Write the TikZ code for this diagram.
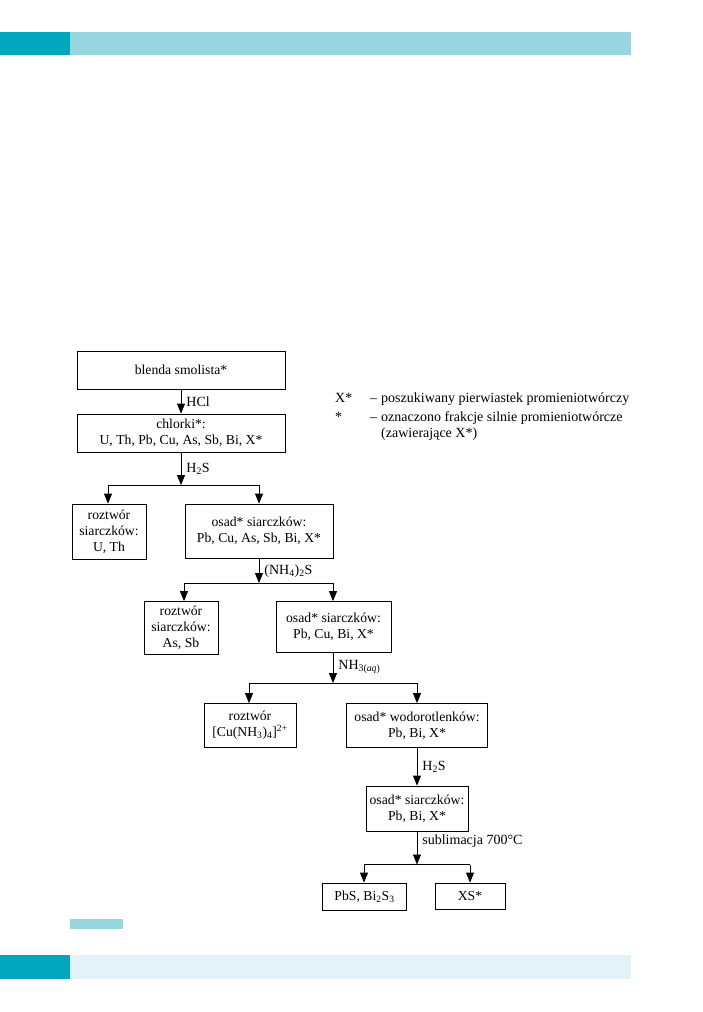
\documentclass[tikz,border=0pt]{standalone}
\usepackage{fontspec}
\setmainfont{Liberation Serif}
\usepackage{xcolor}
\usetikzlibrary{calc, positioning}
\usetikzlibrary{arrows.meta}

\definecolor{tealdark}{HTML}{00A7BC}
\definecolor{teallight}{HTML}{97D5DF}
\definecolor{palebar}{HTML}{E3F2F8}

\tikzset{
  box/.style={draw, line width=0.8pt, align=center, inner sep=0pt,
    font=\fontsize{13.7}{16}\selectfont},
  arr/.style={line width=0.8pt, -{Triangle[length=10pt,width=8pt]}},
  ln/.style={line width=0.8pt},
  lbl/.style={right, font=\fontsize{14}{16}\selectfont, inner sep=5pt},
}

\begin{document}
\begin{tikzpicture}[x=1pt, y=-1pt]
\useasboundingbox (0,0) rectangle (702,1012);

% page bars
\fill[tealdark] (0,32) rectangle (70,55);
\fill[teallight] (70,32) rectangle (631,55);
\fill[teallight] (70,919) rectangle (123,929);
\fill[tealdark] (0,955) rectangle (70,979);
\fill[palebar] (70,955) rectangle (631,979);

% boxes
\node[box, minimum width=208, minimum height=38] (ore) at (181,370) {blenda smolista*};
\node[box, minimum width=208, minimum height=38] (chlor) at (181,433)
  {chlorki*:\\U, Th, Pb, Cu, As, Sb, Bi, X*};
\node[box, minimum width=74, minimum height=55] (solA) at (109,531.5)
  {roztwór\\siarczków:\\U, Th};
\node[box, minimum width=148, minimum height=54] (precA) at (259,531)
  {osad* siarczków:\\Pb, Cu, As, Sb, Bi, X*};
\node[box, minimum width=74, minimum height=53] (solB) at (181,628)
  {roztwór\\siarczków:\\As, Sb};
\node[box, minimum width=115, minimum height=51] (precB) at (333.5,627)
  {osad* siarczków:\\Pb, Cu, Bi, X*};
\node[box, minimum width=92, minimum height=44] (solC) at (250,725.5)
  {roztwór\\{[}Cu(NH\textsubscript{3})\textsubscript{4}{]}\textsuperscript{2+}};
\node[box, minimum width=141, minimum height=44] (precC) at (417,725.5)
  {osad* wodorotlenków:\\Pb, Bi, X*};
\node[box, minimum width=102, minimum height=45] (precD) at (417,808.5)
  {osad* siarczków:\\Pb, Bi, X*};
\node[box, minimum width=84, minimum height=27] (pbs) at (364.5,896.5)
  {PbS, Bi\textsubscript{2}S\textsubscript{3}};
\node[box, minimum width=70, minimum height=26] (xs) at (470,896)
  {XS*};

% junctions
\coordinate (jA) at (181,485);
\coordinate (jAl) at (108,485);
\coordinate (jAr) at (259,485);
\coordinate (jB) at (259,583);
\coordinate (jBl) at (184,583);
\coordinate (jBr) at (333,583);
\coordinate (jC) at (333,683);
\coordinate (jCl) at (249,683);
\coordinate (jCr) at (417,683);
\coordinate (jD) at (417,864.5);
\coordinate (jDl) at (364,864.5);
\coordinate (jDr) at (470,864.5);

% arrows
\draw[arr] (ore) -- (chlor) node[lbl, midway] (hcl) {HCl};
\draw[arr] (chlor) -- (jA) node[lbl, midway] (hs1) {H\textsubscript{2}S};
\draw[ln] (jAl) -- (jAr);
\draw[arr] (jAl) -- (jAl |- solA.north);
\draw[arr] (jAr) -- (jAr |- precA.north);

\draw[arr] (precA.south -| jB) -- (jB) node[lbl, midway] (nhs) {(NH\textsubscript{4})\textsubscript{2}S};
\draw[ln] (jBl) -- (jBr);
\draw[arr] (jBl) -- (jBl |- solB.north);
\draw[arr] (jBr) -- (jBr |- precB.north);

\draw[arr] (precB.south -| jC) -- (jC) node[lbl, midway, yshift=1pt] (nh3) {NH\textsubscript{3(\textit{aq})}};
\draw[ln] (jCl) -- (jCr);
\draw[arr] (jCl) -- (jCl |- solC.north);
\draw[arr] (jCr) -- (jCr |- precC.north);

\draw[arr] (precC) -- (precD) node[lbl, midway] (hs2) {H\textsubscript{2}S};
\draw[arr] (precD) -- (jD) node[lbl, pos=0.3] (subl) {sublimacja 700°C};
\draw[ln] (jDl) -- (jDr);
\draw[arr] (jDl) -- (jDl |- pbs.north);
\draw[arr] (jDr) -- (jDr |- xs.north);

% legend
\node[lbl, anchor=base west, inner sep=0pt] (keyX) at (335,402) {X*};
\node[lbl, anchor=base west, inner sep=0pt] (dashX) at (370,402) {--};
\node[lbl, anchor=base west, inner sep=0pt] (txtX) at (381,402) {poszukiwany pierwiastek promieniotwórczy};
\node[lbl, anchor=base west, inner sep=0pt] (keyS) at (335,421) {*};
\node[lbl, anchor=base west, inner sep=0pt] (dashS) at (370,421) {--};
\node[lbl, anchor=base west, inner sep=0pt] (txtS) at (381,421) {oznaczono frakcje silnie promieniotwórcze};
\node[lbl, anchor=base west, inner sep=0pt] (txtS2) at (381,437) {(zawierające X*)};
\end{tikzpicture}
\end{document}
